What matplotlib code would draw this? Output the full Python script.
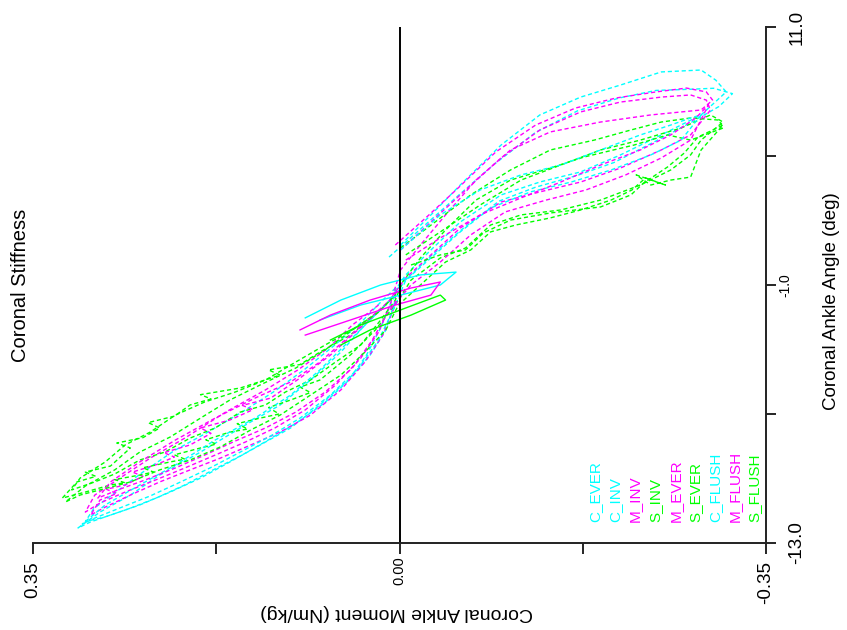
import matplotlib
matplotlib.use("Agg")
import matplotlib.pyplot as plt

plt.rcParams['font.family'] = ['Liberation Sans', 'DejaVu Sans']

# ---- data: coronal ankle moment (Nm/kg) vs coronal ankle angle (deg) ----
C_EVER_m = [-0.001,-0.030,-0.058,-0.097,-0.134,-0.173,-0.211,-0.250,-0.288,-0.302,-0.312,-0.288,-0.250,-0.211,-0.173,-0.134,-0.097,-0.058,-0.030,-0.006,0.004,0.004,0.013,0.028,0.047,0.076,0.104,0.133,0.162,0.190,0.219,0.248,0.276,0.295,0.307,0.286,0.257,0.229,0.190,0.152,0.114,0.085,0.056,0.033,0.013,-0.001]
C_EVER_a = [0.86,2.26,3.65,5.51,6.91,7.74,8.30,8.91,9.00,8.53,7.98,6.91,5.98,5.05,4.26,3.79,3.19,1.93,0.63,-0.53,-1.23,-1.70,-3.09,-4.26,-5.33,-6.58,-7.65,-8.44,-9.23,-9.98,-10.63,-11.23,-11.70,-12.02,-12.30,-11.56,-10.77,-9.84,-8.77,-7.65,-6.58,-5.42,-4.12,-2.86,-1.93,-1.00]

C_INV_m = [0.010,-0.020,-0.050,-0.090,-0.130,-0.170,-0.210,-0.245,-0.275,-0.300,-0.318,-0.305,-0.280,-0.245,-0.205,-0.170,-0.130,-0.095,-0.060,-0.030,-0.005,0.008,0.018,0.032,0.050,0.072,0.098,0.125,0.150,0.178,0.205,0.232,0.258,0.282,0.300,0.292,0.270,0.245,0.215,0.185,0.150,0.118,0.090,0.062,0.038,0.018,0.003]
C_INV_a = [0.30,1.60,2.90,4.60,6.10,7.10,7.70,8.05,8.10,8.15,7.90,7.30,6.60,5.70,4.70,4.10,3.55,2.90,1.60,0.35,-0.80,-1.80,-3.00,-4.30,-5.50,-6.50,-7.40,-8.20,-8.90,-9.60,-10.30,-10.90,-11.40,-11.80,-12.00,-11.40,-10.60,-9.70,-8.70,-7.90,-6.90,-5.90,-4.90,-3.80,-2.80,-1.80,-1.10]

C_FLUSH_m = [-0.001,-0.039,-0.077,-0.116,-0.154,-0.192,-0.230,-0.259,-0.278,-0.288,-0.269,-0.240,-0.202,-0.164,-0.125,-0.087,-0.058,-0.030,-0.006,0.006,0.020,0.039,0.066,0.095,0.123,0.152,0.181,0.209,0.238,0.267,0.291,0.303,0.281,0.248,0.214,0.176,0.138,0.104,0.076,0.049,0.026,0.007]
C_FLUSH_a = [0.63,2.26,3.42,4.12,4.58,5.28,5.98,6.44,6.77,6.91,5.74,5.05,4.35,3.79,3.33,2.58,1.47,0.26,-0.77,-2.16,-3.56,-4.86,-6.12,-7.19,-8.02,-8.77,-9.51,-10.16,-10.81,-11.37,-11.84,-12.12,-11.23,-10.30,-9.37,-8.21,-7.19,-6.12,-4.95,-3.65,-2.53,-1.60]

M_EVER_m = [-0.001,-0.030,-0.058,-0.097,-0.134,-0.173,-0.211,-0.250,-0.278,-0.293,-0.297,-0.278,-0.250,-0.211,-0.173,-0.134,-0.097,-0.058,-0.030,-0.006,0.004,0.004,0.016,0.033,0.056,0.085,0.114,0.142,0.171,0.200,0.229,0.257,0.281,0.295,0.286,0.270,0.280,0.262,0.245,0.255,0.233,0.215,0.225,0.200,0.180,0.190,0.162,0.140,0.150,0.123,0.095,0.066,0.042,0.018,0.001]
M_EVER_a = [0.63,1.93,3.19,4.91,6.21,7.05,7.51,7.74,7.84,7.60,7.14,5.98,5.28,4.44,3.79,3.33,2.86,1.65,0.40,-0.67,-1.33,-1.93,-3.33,-4.58,-5.88,-7.05,-7.84,-8.44,-9.05,-9.60,-10.16,-10.77,-11.33,-11.70,-11.00,-10.70,-10.50,-10.30,-9.90,-9.70,-9.37,-9.00,-8.80,-8.44,-7.90,-7.65,-7.28,-6.80,-6.60,-6.26,-5.33,-4.26,-3.19,-2.16,-1.23]

M_INV_m = [0.004,-0.025,-0.054,-0.092,-0.130,-0.168,-0.207,-0.245,-0.274,-0.293,-0.299,-0.288,-0.240,-0.192,-0.144,-0.106,-0.073,-0.044,-0.020,-0.001,0.009,0.020,0.037,0.061,0.090,0.119,0.147,0.176,0.205,0.233,0.262,0.286,0.300,0.291,0.267,0.238,0.205,0.166,0.128,0.097,0.068,0.045,0.020]
M_INV_a = [0.86,2.12,3.42,5.19,6.44,7.23,7.70,7.98,8.16,7.98,7.60,7.14,6.91,6.58,6.12,5.28,3.88,2.26,0.86,-0.30,-1.93,-3.19,-4.40,-5.65,-6.81,-7.65,-8.30,-8.91,-9.51,-10.07,-10.63,-11.14,-11.56,-10.77,-9.98,-9.05,-8.12,-6.91,-5.88,-4.95,-3.93,-2.86,-1.93]

M_FLUSH_m = [-0.006,-0.039,-0.077,-0.116,-0.154,-0.192,-0.230,-0.259,-0.283,-0.295,-0.278,-0.250,-0.216,-0.178,-0.140,-0.101,-0.068,-0.039,-0.011,0.011,0.026,0.045,0.071,0.099,0.128,0.157,0.186,0.214,0.243,0.269,0.288,0.276,0.248,0.214,0.176,0.138,0.104,0.076,0.052,0.028,0.009]
M_FLUSH_a = [0.16,1.19,2.26,3.05,3.79,4.58,5.28,5.98,6.77,7.37,5.74,4.91,4.12,3.42,2.95,2.40,1.33,0.07,-1.00,-2.26,-3.56,-4.86,-5.98,-6.91,-7.65,-8.26,-8.91,-9.51,-10.07,-10.53,-10.91,-10.16,-9.23,-8.21,-7.19,-6.26,-5.51,-4.58,-3.56,-2.53,-1.70]

S_EVER_m = [-0.006,-0.039,-0.077,-0.116,-0.154,-0.192,-0.230,-0.269,-0.297,-0.309,-0.288,-0.278,-0.259,-0.230,-0.192,-0.154,-0.116,-0.087,-0.063,-0.039,-0.011,
            0.001,0.023,0.047,0.076,0.095,0.085,0.104,0.125,0.115,0.133,0.155,0.145,0.162,0.185,0.175,0.190,0.215,0.205,0.219,0.245,0.235,0.248,0.272,0.262,0.276,0.300,0.322,
            0.308,0.290,0.300,0.276,0.257,0.270,0.245,0.229,0.240,0.215,0.200,0.180,0.190,0.152,0.114,0.125,0.095,0.076,0.047,0.018,0.001]
S_EVER_a = [0.40,1.47,2.72,3.88,4.58,5.28,5.74,6.30,6.91,6.58,5.74,5.05,4.35,3.65,2.95,2.49,2.26,1.79,0.72,0.26,-0.77,
            -1.70,-3.09,-4.26,-5.42,-5.75,-6.00,-6.35,-6.70,-7.00,-7.19,-7.45,-7.70,-7.84,-8.20,-8.40,-8.58,-8.90,-9.10,-9.23,-9.50,-9.70,-9.84,-10.05,-10.20,-10.30,-10.63,-10.91,
            -10.16,-9.90,-9.70,-9.42,-8.58,-8.35,-8.10,-7.65,-7.40,-7.10,-6.58,-6.30,-6.10,-5.79,-5.19,-4.95,-4.70,-4.12,-3.33,-2.16,-1.33]

S_INV_m = [-0.001,-0.034,-0.068,-0.106,-0.144,-0.186,-0.221,-0.250,-0.278,-0.305,-0.309,-0.278,-0.256,-0.224,-0.176,-0.144,-0.106,-0.073,-0.044,-0.020,-0.003,0.004,0.018,0.037,0.061,0.085,0.109,0.128,0.152,0.176,0.200,0.224,0.248,0.272,0.291,0.313,0.305,0.281,0.262,0.238,0.214,0.186,0.157,0.128,0.099,0.071,0.042,0.018]
S_INV_a = [0.72,1.93,3.19,4.35,5.28,5.74,6.21,6.58,6.77,6.67,6.30,5.74,5.98,5.51,4.95,4.44,3.88,2.95,1.56,0.26,-0.86,-1.70,-2.63,-3.79,-4.58,-5.42,-5.98,-6.58,-6.91,-7.65,-8.12,-8.77,-9.14,-9.79,-10.16,-10.53,-9.98,-9.23,-8.44,-7.84,-7.05,-6.44,-5.98,-5.42,-4.58,-3.79,-3.00,-2.16]

S_FLUSH_m = [-0.011,-0.039,-0.063,-0.080,-0.106,-0.144,-0.192,-0.221,-0.233,-0.256,-0.272,-0.285,-0.309,-0.288,-0.278,-0.259,-0.240,-0.226,-0.254,-0.235,-0.222,-0.202,-0.173,-0.144,-0.111,-0.087,-0.068,-0.044,-0.020,0.001,0.013,0.033,0.056,0.085,0.114,0.142,0.171,0.200,0.229,0.257,0.286,0.305,0.319,0.300,0.272,0.248,0.219,0.190,0.162,0.131,0.099,0.071,0.045,0.020,0.004]
S_FLUSH_a = [-0.07,0.40,0.63,1.42,2.02,2.35,2.63,3.19,3.74,4.49,5.14,5.88,6.44,5.28,4.02,3.88,3.65,4.12,3.65,3.98,3.42,2.95,2.49,2.12,1.79,1.47,0.63,0.07,-1.00,-1.93,-3.09,-4.12,-5.19,-6.12,-7.05,-7.74,-8.53,-9.14,-9.60,-10.16,-10.53,-10.77,-11.09,-10.35,-9.60,-8.77,-8.07,-7.19,-6.35,-5.60,-4.86,-4.02,-3.09,-2.26,-1.47]

# solid loops near the origin
C_core_m = [0.090,0.056,0.018,-0.020,-0.054,-0.039,-0.001,0.037,0.076]
C_core_a = [-2.53,-1.70,-1.00,-0.53,-0.40,-1.00,-1.47,-1.93,-2.63]
M_core_m = [0.095,0.066,0.028,-0.011,-0.039,-0.030,0.004,0.047,0.090]
M_core_a = [-3.09,-2.40,-1.70,-1.14,-0.86,-1.47,-1.93,-2.63,-3.33]
S_core_m = [0.066,0.037,-0.001,-0.039,-0.044,-0.011,0.028,0.056]
S_core_a = [-3.56,-2.86,-2.16,-1.47,-1.70,-2.40,-3.09,-3.79]

legend_labels = ["C_EVER", "C_INV", "M_INV", "S_INV", "M_EVER", "S_EVER", "C_FLUSH", "M_FLUSH", "S_FLUSH"]
CYAN, MAG, GRN = "#00FFFF", "#FF00FF", "#00FF00"
legend_colors = [CYAN, CYAN, MAG, GRN, MAG, GRN, CYAN, MAG, GRN]

series = [
    (C_EVER_m, C_EVER_a, CYAN),
    (C_INV_m, C_INV_a, CYAN),
    (M_INV_m, M_INV_a, MAG),
    (S_INV_m, S_INV_a, GRN),
    (M_EVER_m, M_EVER_a, MAG),
    (S_EVER_m, S_EVER_a, GRN),
    (C_FLUSH_m, C_FLUSH_a, CYAN),
    (M_FLUSH_m, M_FLUSH_a, MAG),
    (S_FLUSH_m, S_FLUSH_a, GRN),
]

x_ticks = [0.35, 0.175, 0.0, -0.175, -0.35]
x_ticklabels = ["0.35", "", "", "", "-0.35"]
x_mid_label = "0.00"
y_ticks = [11, 5, -1, -7, -13]
y_ticklabels = ["11.0", "", "", "", "-13.0"]
y_mid_label = "-1.0"

W, H = 847, 630
fig = plt.figure(figsize=(W / 100, H / 100), dpi=100)
ax = fig.add_axes([33 / W, 1 - 543 / H, (766 - 33) / W, (543 - 27) / H])

for m, a, c in series:
    ax.plot(m, a, color=c, lw=1.0, linestyle=(0, (3, 2)))
for m, a, c in [(C_core_m, C_core_a, CYAN), (M_core_m, M_core_a, MAG), (S_core_m, S_core_a, GRN)]:
    ax.plot(m, a, color=c, lw=1.0)

ax.axvline(0, color="black", lw=1.4)
ax.set_xlim(0.35, -0.35)
ax.set_ylim(-13, 11)

for s in ("left", "top"):
    ax.spines[s].set_visible(False)
for s in ("right", "bottom"):
    ax.spines[s].set_linewidth(1.4)
    ax.spines[s].set_color("#222222")

ax.set_xticks(x_ticks)
ax.set_xticklabels(x_ticklabels, rotation=90)
ax.tick_params(axis="x", length=8, width=1.2, pad=5, labelsize=13.5)
ax.yaxis.tick_right()
ax.set_yticks(y_ticks)
ax.set_yticklabels(y_ticklabels, rotation=90)
ax.tick_params(axis="y", length=7, width=1.2, pad=9, labelsize=13.5)
for lab in ax.get_yticklabels():
    lab.set_va("center")

# smaller middle tick labels
ax.annotate(x_mid_label, xy=(x_ticks[2], 0), xycoords=ax.get_xaxis_transform(),
            xytext=(0, -9.5), textcoords="offset points", rotation=90,
            ha="center", va="top", fontsize=10.5)
ax.annotate(y_mid_label, xy=(1, y_ticks[2]), xycoords=ax.get_yaxis_transform(),
            xytext=(14, 0), textcoords="offset points", rotation=90,
            ha="center", va="center", fontsize=10)

fig.text(397 / W, 1 - 612 / H, "Coronal Ankle Moment (Nm/kg)", rotation=180,
         ha="center", va="center", fontsize=14)
fig.text(831 / W, 1 - 301 / H, "Coronal Ankle Angle (deg)", rotation=90,
         ha="center", va="center", fontsize=13.5)
fig.text(20 / W, 1 - 285 / H, "Coronal Stiffness", rotation=90,
         ha="center", va="center", fontsize=14.5)

leg_x = [595, 615, 635, 655, 676, 695, 715, 735, 754]
for lx, lab, col in zip(leg_x, legend_labels, legend_colors):
    fig.text(lx / W, 1 - 522 / H, lab, rotation=90, ha="center", va="bottom",
             fontsize=11, color=col)

fig.savefig("out.png", dpi=100)
